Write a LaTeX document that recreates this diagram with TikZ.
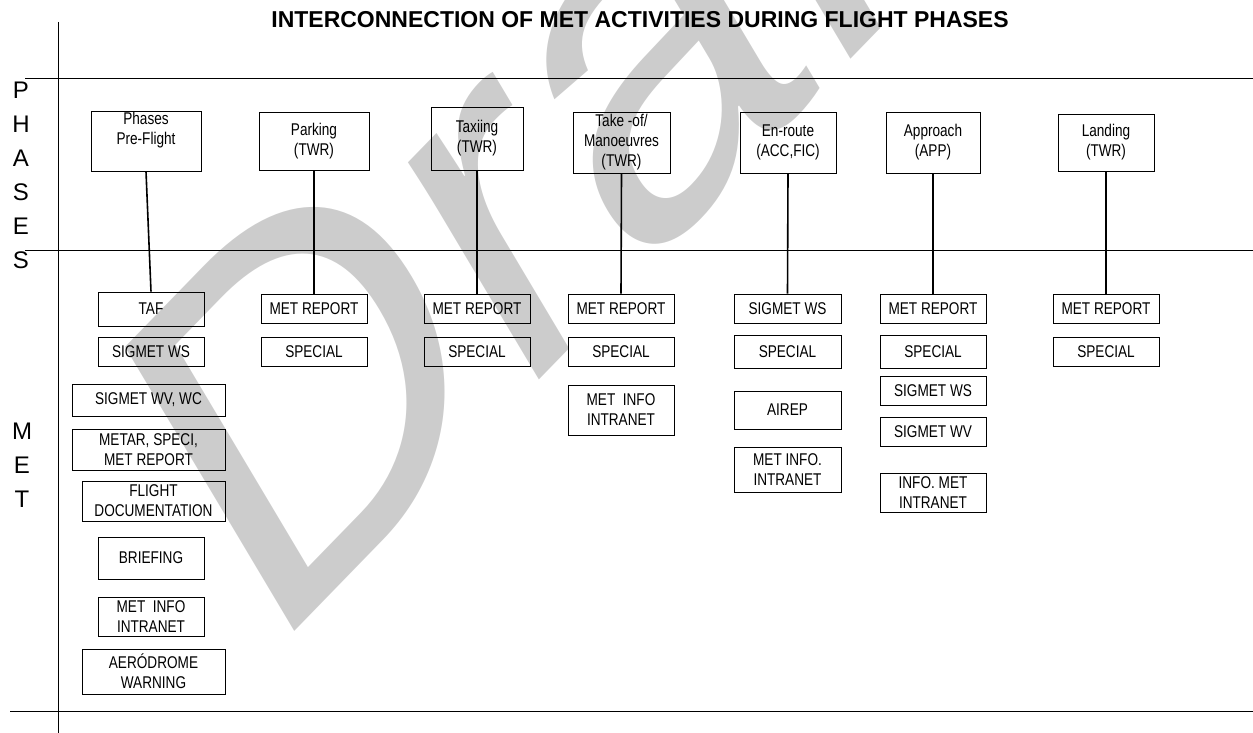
\documentclass[tikz,border=0pt]{standalone}
\usepackage{fontspec}
\setmainfont{Liberation Sans}
\newfontfamily\narrowfont{Liberation Sans}[FakeStretch=0.8]
\usepackage{tikz}

\begin{document}
\begin{tikzpicture}[x=1pt,y=-1pt,
        box/.style={
          draw,line width=0.9pt,inner sep=0pt,align=center,
          font=\narrowfont\fontsize{17}{20}\selectfont
        },
        link/.style={line width=1.6pt},
        frame/.style={line width=0.8pt},
        side/.style={font=\fontsize{24}{24}\selectfont,inner sep=0pt}
      ]
      \useasboundingbox (0,0) rectangle (1253,733);
      % watermark
      \begin{scope}[shift={(266,661)},cm={3.44,3.54,-2.46,4.13,(0,0)}]
        \node [anchor=base west,inner sep=0pt,transform shape,text=gray!40,
          font=\fontsize{100}{100}\selectfont] (draft) at (0,0) {Draft};
      \end{scope}
      \node [font=\bfseries\fontsize{23}{23}\selectfont] (title) at (640,20)
        {INTERCONNECTION OF MET ACTIVITIES DURING FLIGHT PHASES};
      % frame lines
      \draw [frame] (58,22) -- (58,733);
      \draw [frame] (25,78) -- (1253,78);
      \draw [frame] (25,250) -- (1253,250);
      \draw [frame] (10,711) -- (1253,711);
      \foreach \l [count=\i] in {P,H,A,S,E,S}
        \node [side] (ph\i) at (21,56+34*\i) {\l};
      \foreach \l [count=\i] in {M,E,T}
        \node [side] (mt\i) at (22,397+34*\i) {\l};
      % phases
      \node [box,minimum width=110,minimum height=60] (pre) at (146,141) {Phases\\Pre-Flight\\\strut};
      \node [box,minimum width=110,minimum height=58] (park) at (314,141) {Parking\\(TWR)};
      \node [box,minimum width=92,minimum height=63] (taxi) at (477,138.5) {Taxiing\\(TWR)};
      \node [box,minimum width=97,minimum height=61] (take) at (621.5,142.5) {Take -of/\\Manoeuvres\\(TWR)};
      \node [box,minimum width=96,minimum height=61] (enr) at (788,142.5) {En-route\\(ACC,FIC)};
      \node [box,minimum width=94,minimum height=61] (app) at (933,142.5) {Approach\\(APP)};
      \node [box,minimum width=96,minimum height=57] (land) at (1106,142.5) {Landing\\(TWR)};
      % met, pre-flight
      \node [box,minimum width=106,minimum height=34] (taf) at (151,309) {TAF};
      \node [box,minimum width=106,minimum height=29] (sws1) at (151,351.5) {SIGMET WS};
      \node [box,minimum width=153,minimum height=32] (swv1) at (148.5,400) {SIGMET WV, WC};
      \node [box,minimum width=153,minimum height=41] (metar) at (148.5,449.5) {METAR, SPECI,\\MET REPORT};
      \node [box,minimum width=143,minimum height=40] (fdoc) at (153.5,501) {FLIGHT\\DOCUMENTATION};
      \node [box,minimum width=106,minimum height=42] (brief) at (151,558) {BRIEFING};
      \node [box,minimum width=106,minimum height=39] (info1) at (151,616.5) {MET\ \ INFO\\INTRANET};
      \node [box,minimum width=143,minimum height=45] (aero) at (153.5,671.5) {AERÓDROME\\WARNING};
      % met, parking and taxiing
      \node [box,minimum width=106,minimum height=29] (rep2) at (314,308.5) {MET REPORT};
      \node [box,minimum width=106,minimum height=29] (spc2) at (314,351.5) {SPECIAL};
      \node [box,minimum width=106,minimum height=29] (rep3) at (477,308.5) {MET REPORT};
      \node [box,minimum width=106,minimum height=29] (spc3) at (477,351.5) {SPECIAL};
      % met, take-off
      \node [box,minimum width=106,minimum height=29] (rep4) at (621,308.5) {MET REPORT};
      \node [box,minimum width=106,minimum height=29] (spc4) at (621,351.5) {SPECIAL};
      \node [box,minimum width=106,minimum height=50] (info4) at (621,410) {MET\ \ INFO\\INTRANET};
      % met, en-route
      \node [box,minimum width=107,minimum height=29] (sws5) at (787.5,308.5) {SIGMET WS};
      \node [box,minimum width=107,minimum height=33] (spc5) at (787.5,351.5) {SPECIAL};
      \node [box,minimum width=107,minimum height=38] (airep) at (787.5,410) {AIREP};
      \node [box,minimum width=107,minimum height=45] (info5) at (787.5,469.5) {MET INFO.\\INTRANET};
      % met, approach
      \node [box,minimum width=106,minimum height=29] (rep6) at (933,308.5) {MET REPORT};
      \node [box,minimum width=106,minimum height=33] (spc6) at (933,351.5) {SPECIAL};
      \node [box,minimum width=106,minimum height=29] (sws6) at (933,390.5) {SIGMET WS};
      \node [box,minimum width=106,minimum height=29] (swv6) at (933,431.5) {SIGMET WV};
      \node [box,minimum width=106,minimum height=39] (info6) at (933,492.5) {INFO. MET\\INTRANET};
      % met, landing
      \node [box,minimum width=106,minimum height=29] (rep7) at (1106,308.5) {MET REPORT};
      \node [box,minimum width=106,minimum height=29] (spc7) at (1106,351.5) {SPECIAL};
      % links
      \draw [link] (pre.south) -- (taf.north);
      \draw [link] (park.south) -- (rep2.north);
      \draw [link] (taxi.south) -- (rep3.north);
      \draw [link] (take.south) -- (rep4.north);
      \draw [link] (enr.south) -- (sws5.north);
      \draw [link] (app.south) -- (rep6.north);
      \draw [link] (land.south) -- (rep7.north);
    \end{tikzpicture}
\end{document}
